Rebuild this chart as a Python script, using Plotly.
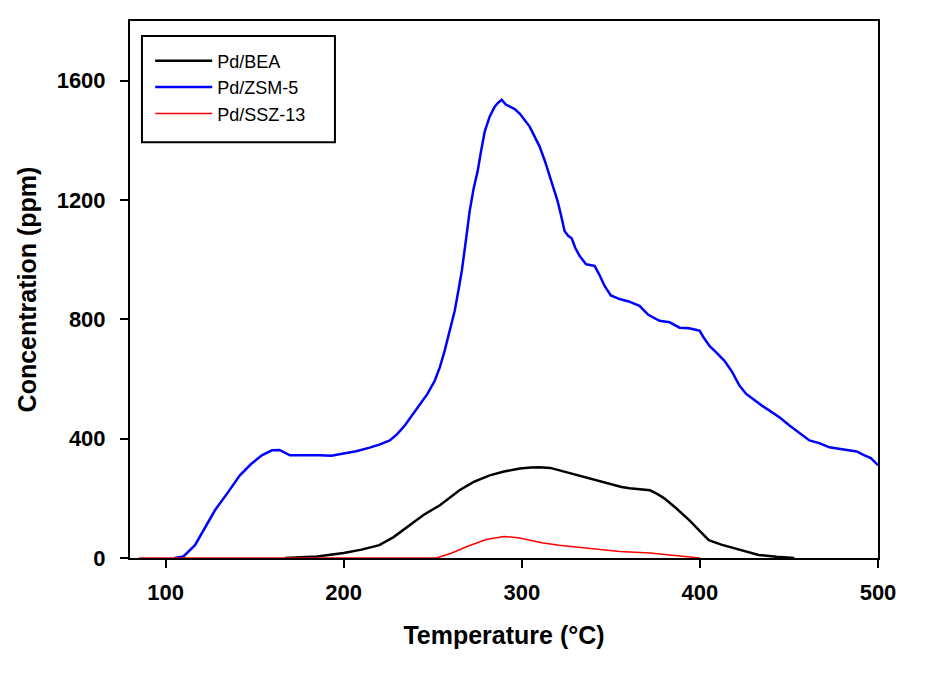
import plotly.graph_objects as go

# Pd/ZSM-5 (blue)
zsm_t = [105, 110, 116.5, 122, 127.7, 135, 141.7, 148, 154, 159.7, 164, 169.8, 178, 186.6, 193, 199.5, 207,
         214.6, 220, 225.9, 230, 234.3, 238, 242.7, 247, 251.1, 254, 256.7, 259.5, 262.3, 264.5, 266.3, 268.5,
         270.7, 273, 275.2, 277, 279.2, 282, 284.8, 286.5, 288.7, 291, 293.2, 296, 298.8, 301.5, 304.4,
         307, 310, 313, 315.7, 318, 320.1, 322, 324, 326, 328, 330, 332.5, 336, 340.9, 343.5, 346.5, 350,
         354.9, 360, 366.1, 371, 377.3, 383, 388.6, 394, 399.8, 402, 405.4, 409, 413.8, 418, 422.2, 426,
         430.6, 435, 439.1, 445, 450.3, 456, 461.5, 467, 472.7, 478, 483.9, 488, 492.4, 496, 500]
zsm_c = [0, 5, 43, 100, 160, 220, 277, 315, 344, 361, 362, 344, 345, 344, 343, 350, 358,
         370, 380, 394, 415, 444, 475, 511, 550, 594, 640, 695, 760, 828, 900, 962, 1060,
         1162, 1240, 1296, 1360, 1430, 1480, 1513, 1525, 1536, 1520, 1513, 1505, 1490, 1470, 1446,
         1415, 1379, 1330, 1279, 1240, 1196, 1150, 1096, 1080, 1072, 1040, 1012, 985, 979, 950, 912, 880,
         868, 860, 845, 815, 795, 790, 772, 770, 762, 740, 711, 690, 661, 625, 578, 550,
         528, 510, 494, 470, 444, 420, 394, 385, 371, 366, 361, 357, 344, 335, 311]

# Pd/BEA (black)
bea_t = [167, 185, 200, 210, 220, 228, 237, 245, 254, 260, 265, 273, 282, 290, 299, 305, 310, 316, 321,
         330, 338, 345, 352, 356, 360.5, 366, 372, 376, 380, 387, 394, 400, 405, 412, 419, 426, 433, 443, 453]
bea_c = [0, 5, 17, 28, 43, 70, 110, 145, 177, 205, 227, 255, 277, 290, 300, 303, 304, 302, 294,
         280, 267, 256, 244, 238, 234, 231, 227, 215, 200, 165, 127, 90, 60, 45, 33, 20, 10, 4, 0]

# Pd/SSZ-13 (red)
ssz_t = [85, 252, 260, 270, 280, 290, 298, 304, 312, 321, 332, 343.7, 355, 372, 385, 400]
ssz_c = [0, 0, 15, 40, 62, 72, 68, 60, 50, 43, 36, 27, 22, 17, 9, 0]

x_ticks = [100, 200, 300, 400, 500]
y_ticks = [0, 400, 800, 1200, 1600]

FONT = "Arial, Liberation Sans, sans-serif"

fig = go.Figure()
fig.add_trace(go.Scatter(x=bea_t, y=bea_c, mode="lines", name="Pd/BEA",
                         line=dict(color="#000000", width=2.5)))
fig.add_trace(go.Scatter(x=zsm_t, y=zsm_c, mode="lines", name="Pd/ZSM-5",
                         line=dict(color="#0000ff", width=2.5)))
fig.add_trace(go.Scatter(x=ssz_t, y=ssz_c, mode="lines", name="Pd/SSZ-13",
                         line=dict(color="#ff0000", width=1.5)))

# legend frame (paper coordinates)
fig.add_shape(type="rect", xref="paper", yref="paper", x0=0.016, x1=0.274, y0=0.774, y1=0.972,
              line=dict(color="black", width=2), fillcolor="rgba(0,0,0,0)", layer="above")

fig.update_layout(
    width=929, height=678,
    margin=dict(l=122, r=59, t=11, b=128),
    paper_bgcolor="white", plot_bgcolor="white",
    font=dict(family=FONT, color="black"),
    showlegend=True,
    legend=dict(x=0.027, y=0.96, xanchor="left", yanchor="top",
                borderwidth=0, bgcolor="rgba(0,0,0,0)",
                font=dict(size=18, family=FONT), itemwidth=57,
                tracegroupgap=0),
)
fig.update_xaxes(range=[80, 500], tickvals=x_ticks,
                 ticktext=["<b>%d</b>" % v for v in x_ticks],
                 showgrid=False, zeroline=False, showline=True, linecolor="black", linewidth=2,
                 mirror=True, ticks="outside", ticklen=8, tickwidth=2, tickcolor="black",
                 ticklabelstandoff=6,
                 tickfont=dict(size=22, family=FONT),
                 title=dict(text="<b>Temperature (°C)</b>", font=dict(size=25, family=FONT), standoff=22))
fig.update_yaxes(range=[0, 1800], tickvals=y_ticks,
                 ticktext=["<b>%d</b>" % v for v in y_ticks],
                 showgrid=False, zeroline=False, showline=True, linecolor="black", linewidth=2,
                 mirror=True, ticks="outside", ticklen=8, tickwidth=2, tickcolor="black",
                 ticklabelstandoff=10,
                 tickfont=dict(size=22, family=FONT),
                 title=dict(text="<b>Concentration (ppm)</b>", font=dict(size=25, family=FONT), standoff=13))

fig.write_html("out.html")
